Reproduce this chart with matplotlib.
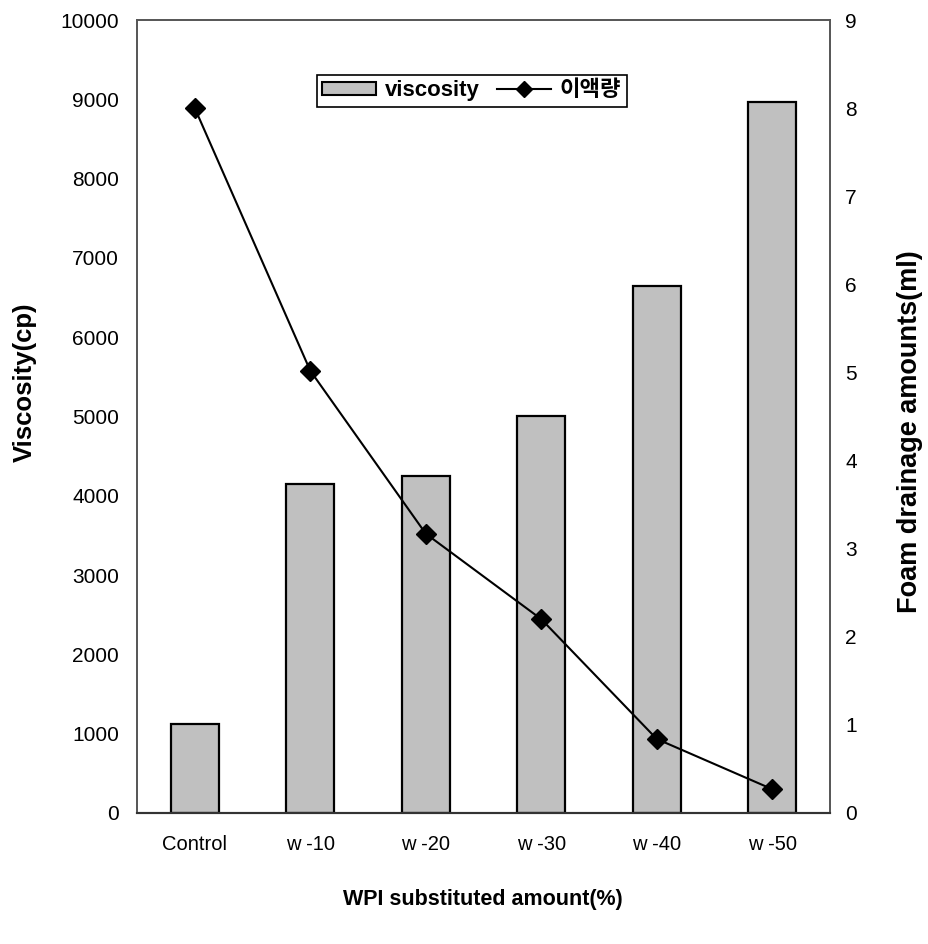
import matplotlib.pyplot as plt
from matplotlib.lines import Line2D
from matplotlib.patches import Patch

plt.rcParams['font.family'] = ['Liberation Sans', 'Noto Sans CJK KR', 'DejaVu Sans']

# 데이터
samples = ['Control', 'w -10', 'w -20', 'w -30', 'w -40', 'w -50']
viscosity = [1120, 4150, 4250, 5010, 6640, 8960]
drainage = [8.0, 5.02, 3.17, 2.2, 0.84, 0.27]

fig = plt.figure(figsize=(9.29, 9.44), dpi=100)
ax = fig.add_axes([0.1475, 0.1388, 0.7459, 0.84])

x = list(range(len(samples)))
ax.bar(x, viscosity, width=0.415, color='#c0c0c0', edgecolor='black', linewidth=1.6, zorder=2)
ax.set_xlim(-0.5, len(samples) - 0.5)
ax.set_ylim(0, 10000)
ax.set_yticks(range(0, 10001, 1000))
ax.set_xticks(x)
ax.set_xticklabels(samples)
ax.tick_params(axis='y', length=0, pad=13, labelsize=15)
ax.tick_params(axis='x', length=0, pad=16, labelsize=14.5)

ax2 = ax.twinx()
ax2.plot(x, drainage, color='black', linewidth=1.5, marker='D', markersize=10, zorder=3)
ax2.set_ylim(0, 9)
ax2.set_yticks(range(0, 10))
ax2.tick_params(axis='y', length=0, pad=11, labelsize=15)

for a in (ax, ax2):
    for side in ('left', 'right', 'top'):
        a.spines[side].set_color('#555555')
        a.spines[side].set_linewidth(1.2)
    a.spines['bottom'].set_color('#333333')
    a.spines['bottom'].set_linewidth(1.5)

# 축 제목
fig.text(483 / 929, 1 - 899 / 944, 'WPI substituted amount(%)', ha='center', va='center',
         fontsize=15.5, fontweight='bold')
fig.text(25 / 929, 1 - 382 / 944, 'Viscosity(cp)', ha='center', va='center',
         rotation=90, fontsize=18.5, fontweight='bold')
fig.text(910 / 929, 1 - 432 / 944, 'Foam drainage amounts(ml)', ha='center', va='center',
         rotation=90, fontsize=19.5, fontweight='bold')

# 범례
handles = [Patch(facecolor='#c0c0c0', edgecolor='black', linewidth=1.5),
           Line2D([], [], color='black', linewidth=1.5, marker='D', markersize=8)]
leg = ax2.legend(handles, ['viscosity', '이액량'], loc='center', bbox_to_anchor=(0.483, 0.911),
                 ncol=2, fancybox=False, framealpha=1, edgecolor='black',
                 prop={'weight': 'bold', 'size': 16}, handlelength=2.4, handleheight=0.5,
                 columnspacing=0.8, handletextpad=0.4, borderpad=0.25, borderaxespad=0)
leg.get_frame().set_linewidth(1.2)

fig.savefig('out.png', dpi=100)
